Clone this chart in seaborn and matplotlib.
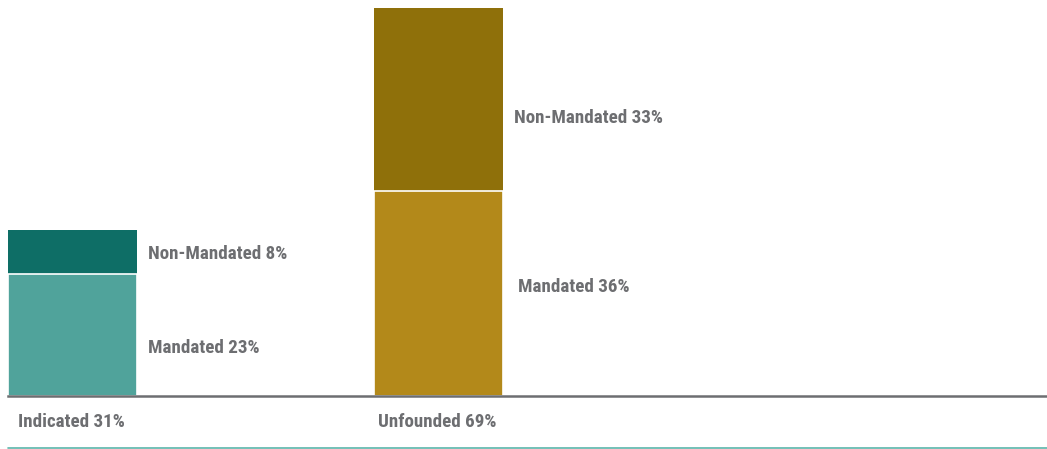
import matplotlib
matplotlib.use("Agg")
import matplotlib.pyplot as plt
import seaborn as sns
import pandas as pd

# ---- data ----
categories = ["Indicated", "Unfounded"]
category_pct = [31, 69]
mandated = [22, 37]          # bar heights
non_mandated = [8, 33]
mandated_pct = [23, 36]      # printed labels
non_mandated_pct = [8, 33]

mandated_colors = ["#50A39B", "#B3891A"]
non_mandated_colors = ["#0E6E66", "#8F700A"]
text_color = "#6D6E71"

sns.set_theme(style="white")
plt.rcParams["font.family"] = ["Roboto Condensed", "Archivo Narrow",
                               "Barlow Semi Condensed", "DejaVu Sans"]

fig = plt.figure(figsize=(10.47, 4.49), dpi=100)
ax = fig.add_axes([8 / 1047, 53 / 449, 1039 / 1047, 396 / 449])

df = pd.DataFrame({
    "category": categories,
    "total": [m + n for m, n in zip(mandated, non_mandated)],
    "mandated": mandated,
})

bw = 0.353
sns.barplot(data=df, x="category", y="total", hue="category",
            palette=non_mandated_colors, width=bw, legend=False,
            edgecolor="none", linewidth=0, saturation=1, ax=ax)
sns.barplot(data=df, x="category", y="mandated", hue="category",
            palette=mandated_colors, width=bw, legend=False,
            edgecolor="white", linewidth=1.2, saturation=1, ax=ax)

ax.set_xlim(-bw / 2, -bw / 2 + 1039 / 365.5)
ax.set_ylim(0, 71.45)
ax.set_xlabel("")
ax.set_ylabel("")
ax.set_xticks([])
ax.set_yticks([])
for s in ["top", "right", "left"]:
    ax.spines[s].set_visible(False)
ax.spines["bottom"].set_color(text_color)
ax.spines["bottom"].set_linewidth(1.8)
ax.spines["bottom"].set_zorder(5)

# segment labels (positions in data units)
nm_label_y = [25.7, 50.2]
m_label_y = [8.7, 19.6]
nm_offsets = [8, 8]
m_offsets = [8, 11]
fs = 13.7
for i in range(len(categories)):
    xr = i + bw / 2
    ax.annotate(f"Non-Mandated {non_mandated_pct[i]}%", xy=(xr, nm_label_y[i]),
                xytext=(nm_offsets[i], 0), textcoords="offset points",
                ha="left", va="center", fontsize=fs, fontweight="bold",
                color=text_color)
    ax.annotate(f"Mandated {mandated_pct[i]}%", xy=(xr, m_label_y[i]),
                xytext=(m_offsets[i], 0), textcoords="offset points",
                ha="left", va="center", fontsize=fs, fontweight="bold",
                color=text_color)
    ax.annotate(f"{categories[i]} {category_pct[i]}%", xy=(i - bw / 2, 0),
                xytext=(7 if i == 0 else 3.5, -18.5), textcoords="offset points",
                ha="left", va="center", fontsize=fs, fontweight="bold",
                color=text_color, annotation_clip=False)

# bottom teal rule
fig.add_artist(plt.Line2D([8 / 1047, 1.0], [1.5 / 449, 1.5 / 449],
                          color="#5BB5AA", linewidth=1.2))

fig.savefig("out.png", dpi=100)
